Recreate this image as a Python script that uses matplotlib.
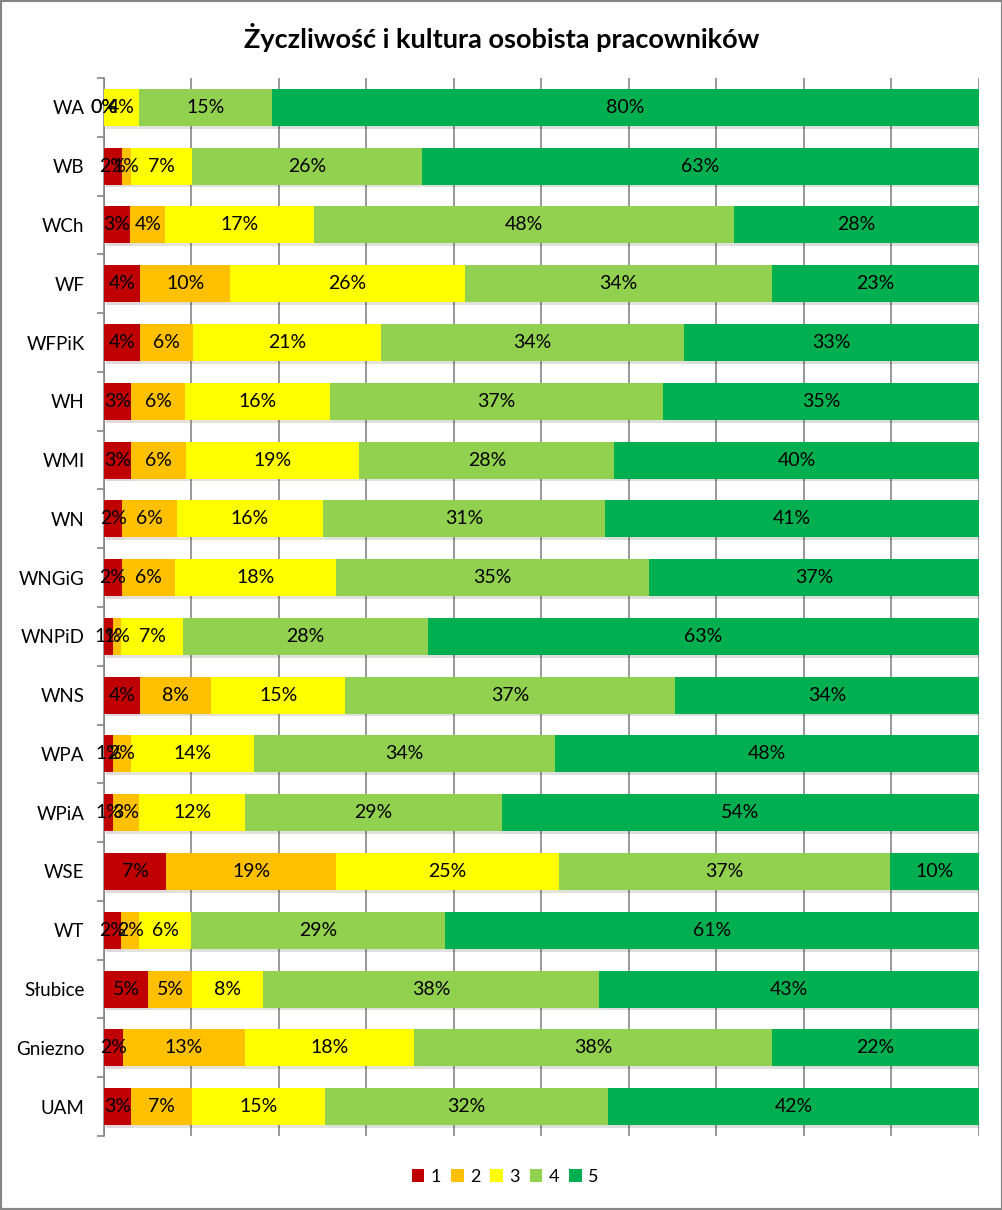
import numpy as np
import matplotlib.pyplot as plt
import matplotlib.patheffects as pe
from matplotlib.patches import Rectangle, Patch

plt.rcParams['font.family'] = ['Lato', 'DejaVu Sans']

categories = ['WA', 'WB', 'WCh', 'WF', 'WFPiK', 'WH', 'WMI', 'WN', 'WNGiG',
              'WNPiD', 'WNS', 'WPA', 'WPiA', 'WSE', 'WT', 'Słubice', 'Gniezno', 'UAM']
series_names = ['1', '2', '3', '4', '5']

# percentages per rating, one list per rating (same order as categories)
r1 = [0, 2, 3, 4, 4, 3, 3, 2, 2, 1, 4, 1, 1, 7, 2, 5, 2, 3]
r2 = [0, 1, 4, 10, 6, 6, 6, 6, 6, 1, 8, 2, 3, 19, 2, 5, 13, 7]
r3 = [4, 7, 17, 26, 21, 16, 19, 16, 18, 7, 15, 14, 12, 25, 6, 8, 18, 15]
r4 = [15, 26, 48, 34, 34, 37, 28, 31, 35, 28, 37, 34, 29, 37, 29, 38, 38, 32]
r5 = [80, 63, 28, 23, 33, 35, 40, 41, 37, 63, 34, 48, 54, 10, 61, 43, 22, 42]

colors = ['#C00000', '#FFC000', '#FFFF00', '#92D050', '#00B050']

data = np.array([r1, r2, r3, r4, r5], dtype=float)
shares = data / data.sum(axis=0) * 100  # 100% stacked like excel

fig = plt.figure(figsize=(10.03, 12.10), dpi=100)
ax = fig.add_axes([104/1003, 1 - 1136/1210, (979 - 104)/1003, (1136 - 78)/1210])

y = np.arange(len(categories))
left = np.zeros(len(categories))
shadow = [pe.SimplePatchShadow(offset=(1.5, -2), alpha=0.15), pe.Normal()]
for i in range(5):
    ax.barh(y, shares[i], left=left, height=0.63, color=colors[i],
            zorder=3, path_effects=shadow)
    for j in range(len(categories)):
        ax.text(left[j] + shares[i][j] / 2, y[j], f'{data[i][j]:.0f}%',
                ha='center', va='center', fontsize=14, color='black', zorder=5)
    left += shares[i]

ax.set_xlim(0, 100)
ax.set_ylim(len(categories) - 0.5, -0.5)
ax.set_xticks(np.arange(0, 101, 10))
ax.set_xticklabels([])
ax.tick_params(axis='x', length=0)
ax.grid(axis='x', color='#868686', lw=1.2, zorder=0)

ax.set_yticks(y)
ax.set_yticklabels(categories, fontsize=13.5)
ax.set_yticks(np.arange(-0.5, len(categories)), minor=True)
ax.tick_params(axis='y', which='major', length=0, pad=14)
ax.tick_params(axis='y', which='minor', length=5, color='#868686', width=1.2)

for s in ['top', 'right', 'bottom']:
    ax.spines[s].set_visible(False)
ax.spines['left'].set_color('#868686')
ax.spines['left'].set_linewidth(1.2)

fig.text(0.5, 1 - 37/1210, 'Życzliwość i kultura osobista pracowników',
         ha='center', va='center', fontsize=19.5, fontweight='bold')

handles = [Patch(facecolor=c, label=n) for c, n in zip(colors, series_names)]
fig.legend(handles=handles, loc='center', bbox_to_anchor=(505/1003, 1 - 1177/1210),
           ncol=5, frameon=False, fontsize=13, handlelength=0.7, handleheight=0.7,
           handletextpad=0.35, columnspacing=0.55)

fig.patches.append(Rectangle((0, 0), 1, 1, transform=fig.transFigure,
                             fill=False, edgecolor='#868686', lw=3))

fig.savefig('out.png', dpi=100)
